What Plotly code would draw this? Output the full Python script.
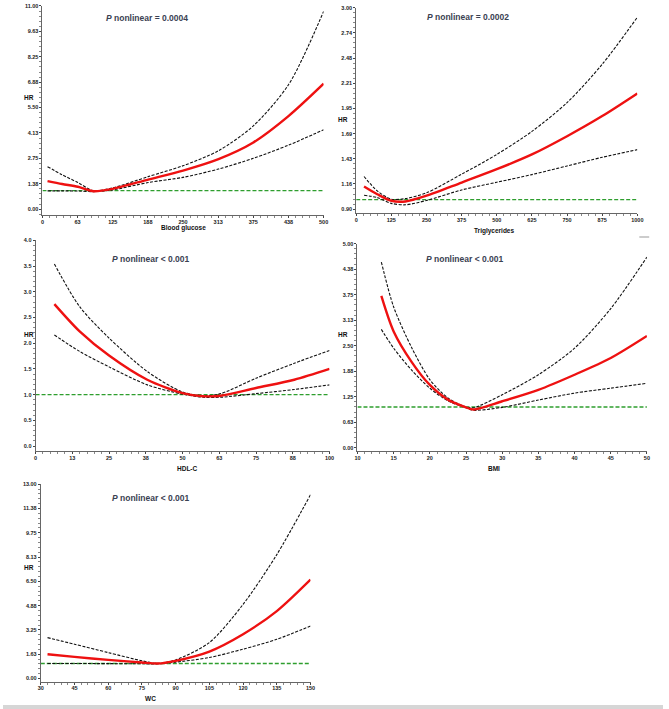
import plotly.graph_objects as go

W, H = 669, 709

# ---- data ----
glu_x = [9, 35, 63, 91, 125, 188, 250, 313, 375, 438, 500]
glu_hr = [1.52, 1.36, 1.21, 0.97, 1.10, 1.60, 2.09, 2.71, 3.61, 5.05, 6.79]
glu_lo = [0.99, 0.99, 0.98, 0.95, 1.04, 1.44, 1.72, 2.17, 2.75, 3.47, 4.30]
glu_hi = [2.30, 1.86, 1.44, 0.99, 1.15, 1.76, 2.35, 3.16, 4.51, 6.76, 10.71]

tg_x = [28, 75, 125, 175, 250, 375, 500, 625, 750, 875, 1000]
tg_hr = [1.136, 1.055, 0.987, 0.98, 1.04, 1.177, 1.316, 1.47, 1.66, 1.87, 2.106]
tg_lo = [1.045, 1.02, 0.96, 0.945, 0.99, 1.10, 1.18, 1.26, 1.35, 1.44, 1.52]
tg_hi = [1.24, 1.09, 1.004, 1.01, 1.07, 1.264, 1.47, 1.71, 2.01, 2.41, 2.90]

hdl_x = [6.4, 15, 25, 38, 50, 57, 63, 75, 88, 100]
hdl_hr = [2.76, 2.23, 1.76, 1.29, 1.03, 0.97, 0.98, 1.13, 1.29, 1.50]
hdl_lo = [2.16, 1.84, 1.54, 1.19, 1.01, 0.95, 0.95, 1.02, 1.10, 1.19]
hdl_hi = [3.54, 2.71, 2.10, 1.45, 1.05, 0.98, 1.02, 1.32, 1.61, 1.86]

bmi_x = [13.3, 15, 17.5, 20, 22.5, 25, 26, 30, 35, 40, 45, 50]
bmi_hr = [3.72, 2.85, 2.10, 1.54, 1.18, 0.99, 0.94, 1.14, 1.42, 1.79, 2.20, 2.74]
bmi_lo = [2.90, 2.44, 1.90, 1.46, 1.15, 0.98, 0.92, 0.99, 1.17, 1.34, 1.46, 1.58]
bmi_hi = [4.55, 3.45, 2.45, 1.67, 1.22, 1.00, 0.98, 1.30, 1.79, 2.44, 3.41, 4.67]

wc_x = [33, 45, 60, 75, 82, 90, 105, 120, 135, 150]
wc_hr = [1.62, 1.44, 1.24, 1.07, 1.00, 1.18, 1.80, 2.96, 4.51, 6.62]
wc_lo = [1.00, 1.00, 0.99, 0.98, 0.98, 1.09, 1.40, 1.96, 2.62, 3.51]
wc_hi = [2.73, 2.29, 1.73, 1.18, 1.00, 1.24, 2.40, 4.96, 8.29, 12.30]

glu_xt = ["0", "63", "125", "188", "250", "313", "375", "438", "500"]
glu_yt = ["0.00", "1.38", "2.75", "4.13", "5.50", "6.88", "8.25", "9.63", "11.00"]
tg_xt = ["0", "125", "250", "375", "500", "625", "750", "875", "1000"]
tg_yt = ["0.90", "1.16", "1.43", "1.69", "1.95", "2.21", "2.48", "2.74", "3.00"]
hdl_xt = ["0", "13", "25", "38", "50", "63", "75", "88", "100"]
hdl_yt = ["0.0", "0.5", "1.0", "1.5", "2.0", "2.5", "3.0", "3.5", "4.0"]
bmi_xt = ["10", "15", "20", "25", "30", "35", "40", "45", "50"]
bmi_yt = ["0.00", "0.63", "1.25", "1.88", "2.50", "3.13", "3.75", "4.38", "5.00"]
wc_xt = ["30", "45", "60", "75", "90", "105", "120", "135", "150"]
wc_yt = ["0.00", "1.63", "3.25", "4.88", "6.50", "8.13", "9.75", "11.38", "13.00"]

titles = ["<i>P</i> nonlinear = 0.0004", "<i>P</i> nonlinear = 0.0002",
          "<i>P</i> nonlinear < 0.001", "<i>P</i> nonlinear < 0.001",
          "<i>P</i> nonlinear < 0.001"]
xlabels = ["Blood glucose", "Triglycerides", "HDL-C", "BMI", "WC"]

# panel geometry in pixels: left, right, bottom(axis line), top, x range, y0 pixel, y-top value
panels = [
    dict(x=glu_x, hr=glu_hr, lo=glu_lo, hi=glu_hi, xt=glu_xt, yt=glu_yt,
         l=40, r=325, b=213, t=3, xr=(0, 500), y0=0, y1=11, y0px=207,
         title_xy=(146, 15), xlab_xy=(183, 226), hr_xy=(26, 95)),
    dict(x=tg_x, hr=tg_hr, lo=tg_lo, hi=tg_hi, xt=tg_xt, yt=tg_yt,
         l=358, r=643, b=211, t=4.7, xr=(0, 1000), y0=0.9, y1=3.0, y0px=207,
         title_xy=(471, 14), xlab_xy=(498, 229), hr_xy=(345, 117)),
    dict(x=hdl_x, hr=hdl_hr, lo=hdl_lo, hi=hdl_hi, xt=hdl_xt, yt=hdl_yt,
         l=33, r=331, b=450, t=238.3, xr=(0, 100), y0=0, y1=4, y0px=445,
         title_xy=(150, 257), xlab_xy=(187, 467), hr_xy=(26, 333)),
    dict(x=bmi_x, hr=bmi_hr, lo=bmi_lo, hi=bmi_hi, xt=bmi_xt, yt=bmi_yt,
         l=359.3, r=652.7, b=450, t=241.7, xr=(10, 50), y0=0, y1=5, y0px=446.7,
         title_xy=(468, 257), xlab_xy=(498, 467), hr_xy=(345, 333)),
    dict(x=wc_x, hr=wc_hr, lo=wc_lo, hi=wc_hi, xt=wc_xt, yt=wc_yt,
         l=38.3, r=311.7, b=681.7, t=483.3, xr=(30, 150), y0=0, y1=13, y0px=678.3,
         title_xy=(150, 497), xlab_xy=(150, 698), hr_xy=(26, 567)),
]

NARROW = "Liberation Sans Narrow, Liberation Sans, Arial"

fig = go.Figure()
annotations = []
tickfont = dict(family=NARROW, size=5.5, color="#222", weight="bold")

for i, p in enumerate(panels, start=1):
    xa = "x" if i == 1 else f"x{i}"
    ya = "y" if i == 1 else f"y{i}"
    per_px = (p["y1"] - p["y0"]) / (p["y0px"] - p["t"])
    ymin = p["y0"] - (p["b"] - p["y0px"]) * per_px

    fig.add_trace(go.Scatter(x=[p["xr"][0], p["xr"][1]], y=[1, 1], mode="lines",
                             line=dict(color="#2e9e2e", width=1.3, dash="4px,2px"),
                             xaxis=xa, yaxis=ya, showlegend=False, hoverinfo="skip"))
    for band in ("lo", "hi"):
        fig.add_trace(go.Scatter(x=p["x"], y=p[band], mode="lines",
                                 line=dict(color="#111", width=1.1, dash="3px,1.5px",
                                           shape="spline", smoothing=0.8),
                                 xaxis=xa, yaxis=ya, showlegend=False))
    fig.add_trace(go.Scatter(x=p["x"], y=p["hr"], mode="lines",
                             line=dict(color="#ee1111", width=2.4, shape="spline", smoothing=0.8),
                             xaxis=xa, yaxis=ya, showlegend=False))

    xstep = (p["xr"][1] - p["xr"][0]) / 8
    ystep = (p["y1"] - p["y0"]) / 8
    axis_common = dict(showgrid=False, zeroline=False, showline=True, linecolor="#666",
                       linewidth=1, ticks="outside", ticklen=2, tickwidth=1, tickcolor="#444",
                       tickfont=tickfont, tickmode="array")
    fig.update_layout(**{
        ("xaxis" if i == 1 else f"xaxis{i}"): dict(
            axis_common, domain=[p["l"] / W, p["r"] / W], range=list(p["xr"]),
            tickvals=[p["xr"][0] + k * xstep for k in range(9)], ticktext=p["xt"],
            anchor=ya, ticklabelstandoff=-1,
            minor=dict(ticks="outside", ticklen=2, tickcolor="#888", tick0=p["xr"][0], dtick=xstep / 5)),
        ("yaxis" if i == 1 else f"yaxis{i}"): dict(
            axis_common, domain=[1 - p["b"] / H, 1 - p["t"] / H], range=[ymin, p["y1"]],
            tickvals=[p["y0"] + k * ystep for k in range(9)], ticktext=p["yt"],
            anchor=xa, ticklabelstandoff=0,
            minor=dict(ticks="outside", ticklen=2, tickcolor="#888", tick0=p["y0"], dtick=ystep / 5)),
    })

    tx, ty = p["title_xy"]
    annotations.append(dict(x=tx / W, y=1 - ty / H, xref="paper", yref="paper", text=titles[i - 1],
                            showarrow=False, xanchor="center", yanchor="middle",
                            font=dict(family=NARROW, size=8.5, color="#3a4152", weight="bold")))
    lx, ly = p["xlab_xy"]
    annotations.append(dict(x=lx / W, y=1 - ly / H, xref="paper", yref="paper", text=xlabels[i - 1],
                            showarrow=False, xanchor="center", yanchor="middle",
                            font=dict(family=NARROW, size=6.5, color="#111", weight="bold")))
    hx, hy = p["hr_xy"]
    annotations.append(dict(x=hx / W, y=1 - hy / H, xref="paper", yref="paper", text="HR",
                            showarrow=False, xanchor="center", yanchor="middle",
                            font=dict(family=NARROW, size=6.5, color="#111", weight="bold")))

fig.update_layout(
    width=W, height=H, margin=dict(l=0, r=0, t=0, b=0),
    paper_bgcolor="white", plot_bgcolor="white",
    annotations=annotations,
    shapes=[
        dict(type="rect", xref="paper", yref="paper", x0=0, x1=1, y0=0, y1=4 / H,
             fillcolor="#d6d6d6", line=dict(width=0)),
        dict(type="line", xref="paper", yref="paper", x0=645 / W, x1=655 / W,
             y0=1 - 235 / H, y1=1 - 235 / H, line=dict(color="#999", width=1)),
    ],
)

fig.write_html("out.html", config={"displayModeBar": False},
               post_script="document.body.style.margin='0';document.body.style.overflow='hidden';")
